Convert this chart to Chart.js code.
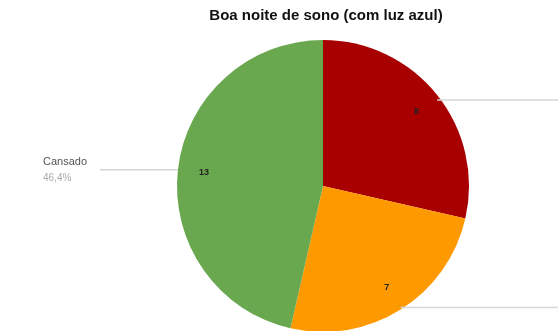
<!DOCTYPE html>
<html>
<head>
<meta charset="utf-8">
<script src="https://cdn.jsdelivr.net/npm/chart.js@4/dist/chart.umd.min.js"></script>
<style>
  html, body { margin: 0; padding: 0; background: #fff; overflow: hidden; }
  canvas { display: block; }
</style>
</head>
<body>
<canvas id="myChart" width="558" height="340"></canvas>
<script>
const title = "Boa noite de sono (com luz azul)"
const categories = ["Descansado", "Normal", "Cansado"]
const values = [8, 7, 13]
const colors = ["#a80000", "#ff9900", "#6aa84f"]

const total = values.reduce((a, b) => a + b, 0)

// leader lines, category names and values drawn on top of the arcs
const labelsPlugin = {
    id: 'pieLabels',
    afterDatasetsDraw(chart) {
        const ctx = chart.ctx
        const meta = chart.getDatasetMeta(0)
        ctx.save()
        meta.data.forEach((arc, i) => {
            const p = arc.getProps(['x', 'y', 'startAngle', 'endAngle', 'outerRadius'], true)
            const mid = (p.startAngle + p.endAngle) / 2
            const cos = Math.cos(mid)
            const sin = Math.sin(mid)

            // value inside the slice
            ctx.fillStyle = '#222'
            ctx.font = 'bold 9px "Liberation Sans", Arial, sans-serif'
            ctx.textAlign = 'center'
            ctx.textBaseline = 'middle'
            ctx.fillText(values[i], p.x + cos * p.outerRadius * 0.82, p.y + sin * p.outerRadius * 0.82)

            // leader line from the edge of the slice
            const left = cos < 0
            let shift = 0
            if (!left) shift = sin < 0 ? 5 : -2
            const ex = p.x + cos * p.outerRadius
            const ey = p.y + sin * p.outerRadius + shift
            const endX = left ? 100 : 600
            ctx.strokeStyle = '#d6d6d6'
            ctx.lineWidth = 1.5
            ctx.beginPath()
            ctx.moveTo(ex, ey)
            ctx.lineTo(endX, ey)
            ctx.stroke()

            const pct = (values[i] / total * 100).toFixed(1).replace('.', ',') + '%'
            const tx = left ? 43 : endX + 4
            ctx.textAlign = 'left'
            ctx.font = '11px "Liberation Sans", Arial, sans-serif'
            ctx.fillStyle = '#555'
            ctx.fillText(categories[i], tx, ey - 8)
            ctx.font = '10px "Liberation Sans", Arial, sans-serif'
            ctx.fillStyle = '#aaa'
            ctx.fillText(pct, tx, ey + 9)
        })

        // title centred over the pie
        const cx = meta.data[0].x
        ctx.fillStyle = '#111'
        ctx.font = 'bold 15px "Liberation Sans", Arial, sans-serif'
        ctx.textAlign = 'center'
        ctx.textBaseline = 'middle'
        ctx.fillText(title, cx + 3, 16)
        ctx.restore()
    }
}

const data = {
    labels: categories,
    datasets: [{
        data: values,
        backgroundColor: colors,
        borderWidth: 0,
    }]
}

const config = {
    type: 'pie',
    data: data,
    options: {
        responsive: false,
        animation: false,
        layout: {
            padding: { left: 177, right: 89, top: 40, bottom: 8 }
        },
        plugins: {
            legend: { display: false },
            title: { display: false },
            tooltip: { enabled: false }
        }
    },
    plugins: [labelsPlugin]
}

var myChart = new Chart(
    document.getElementById('myChart'),
    config
)
</script>
</body>
</html>
